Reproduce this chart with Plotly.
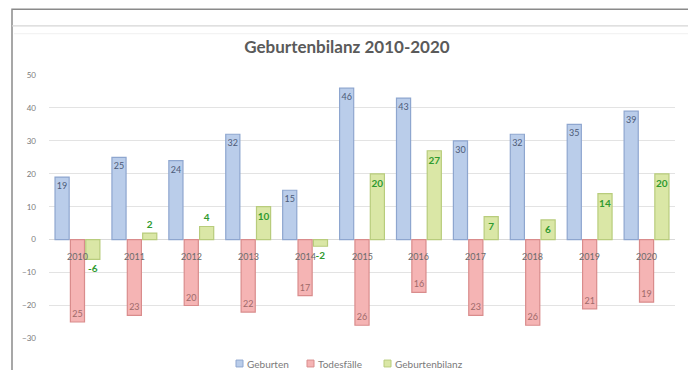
import plotly.graph_objects as go

years = ["2010", "2011", "2012", "2013", "2014", "2015", "2016", "2017", "2018", "2019", "2020"]
geburten = [19, 25, 24, 32, 15, 46, 43, 30, 32, 35, 39]
todesfaelle = [-25, -23, -20, -22, -17, -26, -16, -23, -26, -21, -19]
bilanz = [-6, 2, 4, 10, -2, 20, 27, 7, 6, 14, 20]
y_ticks = [-30, -20, -10, 0, 10, 20, 30, 40, 50]
series_names = ["Geburten", "Todesfälle", "Geburtenbilanz"]

OFF = 8  # page body margin in the browser
W, H = 696 - OFF, 378 - 2 * OFF
ML, MR, MT, MB = 49 - OFF, 21, 75 - OFF, 1
PW, PH = W - ML - MR, H - MT - MB   # paper area
AX_BOTTOM = 343                      # screen y of the axis bottom (-30)

def px_x(px):
    return (px - OFF - ML) / PW

def px_y(py):
    return (H - MB - (py - OFF)) / PH

FONT = "Lato, 'Open Sans', sans-serif"
COLORS = [("#bacdea", "#8ea6cf"), ("#f5b4b4", "#d98c8c"), ("#dae7a6", "#b8cc7c")]

fig = go.Figure()
fig.add_trace(go.Bar(
    name=series_names[0], x=years, y=geburten,
    marker=dict(color=COLORS[0][0], line=dict(color=COLORS[0][1], width=1.2)),
    text=[str(v) for v in geburten], textposition="inside", insidetextanchor="end",
    insidetextfont=dict(size=9, color="#4d5b78", family=FONT),
))
fig.add_trace(go.Bar(
    name=series_names[1], x=years, y=todesfaelle,
    marker=dict(color=COLORS[1][0], line=dict(color=COLORS[1][1], width=1.2)),
    text=[str(abs(v)) for v in todesfaelle], textposition="inside", insidetextanchor="end",
    insidetextfont=dict(size=9, color="#a06a6a", family=FONT),
))
fig.add_trace(go.Bar(
    name=series_names[2], x=years, y=bilanz,
    marker=dict(color=COLORS[2][0], line=dict(color=COLORS[2][1], width=1.2)),
    text=[str(v) for v in bilanz],
    textposition=["inside" if v >= 5 else "outside" for v in bilanz],
    insidetextanchor="end",
    insidetextfont=dict(size=10, color="#2f9a2f", family=FONT, weight="bold"),
    outsidetextfont=dict(size=10, color="#2f9a2f", family=FONT, weight="bold"),
    cliponaxis=False,
))

# category labels sitting at the zero line (Excel style)
for i, yr in enumerate(years):
    fig.add_annotation(x=i, y=-5.2, xref="x", yref="y", text=yr, showarrow=False,
                       font=dict(size=9, color="#6b6b6b", family=FONT))

# manual legend (Excel style, compact)
legend_x = [236, 307, 384]
for name, (fill, edge), lx in zip(series_names, COLORS, legend_x):
    fig.add_shape(type="rect", xref="paper", yref="paper",
                  x0=px_x(lx), x1=px_x(lx + 7), y0=px_y(372), y1=px_y(365),
                  fillcolor=fill, line=dict(color=edge, width=1))
    fig.add_annotation(xref="paper", yref="paper", x=px_x(lx + 9), y=px_y(368.5),
                       xanchor="left", yanchor="middle", text=name, showarrow=False,
                       font=dict(size=10, color="#7a7a7a", family=FONT))

# frame of the screenshot
fig.add_shape(type="rect", xref="paper", yref="paper",
              x0=px_x(12), x1=px_x(692), y0=px_y(8), y1=px_y(385),
              line=dict(color="#8a8a8a", width=1.5), fillcolor="rgba(0,0,0,0)", layer="below")
fig.add_shape(type="line", xref="paper", yref="paper",
              x0=px_x(12), x1=px_x(692), y0=px_y(25), y1=px_y(25),
              line=dict(color="#d6d6d6", width=1.2))
fig.add_shape(type="line", xref="paper", yref="paper",
              x0=px_x(14), x1=px_x(690), y0=px_y(33), y1=px_y(33),
              line=dict(color="#f0f0f0", width=1))

fig.update_layout(
    width=W, height=H,
    margin=dict(l=ML, r=MR, t=MT, b=MB),
    paper_bgcolor="white", plot_bgcolor="white",
    barmode="group", bargap=0.19, bargroupgap=0.08,
    title=dict(text="<b>Geburtenbilanz 2010-2020</b>", x=(347 - OFF) / W,
               xanchor="center", y=1 - (47 - OFF) / H, yanchor="middle",
               font=dict(size=17, color="#5a5a5a", family=FONT)),
    font=dict(family=FONT, color="#6b6b6b"),
    showlegend=False,
    uniformtext=dict(minsize=8, mode="show"),
    xaxis=dict(type="category", range=[-0.5, len(years) - 0.5], showticklabels=False,
               showgrid=False, zeroline=False, showline=False, ticks=""),
    yaxis=dict(range=[-30, 50], tickvals=y_ticks, domain=[px_y(AX_BOTTOM), 1],
               showgrid=True, gridcolor="#e3e3e3",
               gridwidth=1, zeroline=True, zerolinecolor="#d9d9d9", zerolinewidth=1,
               showline=False, ticks="", tickfont=dict(size=8, color="#7a7a7a"),
               ticklabelstandoff=12),
)

fig.write_html("out.html")
